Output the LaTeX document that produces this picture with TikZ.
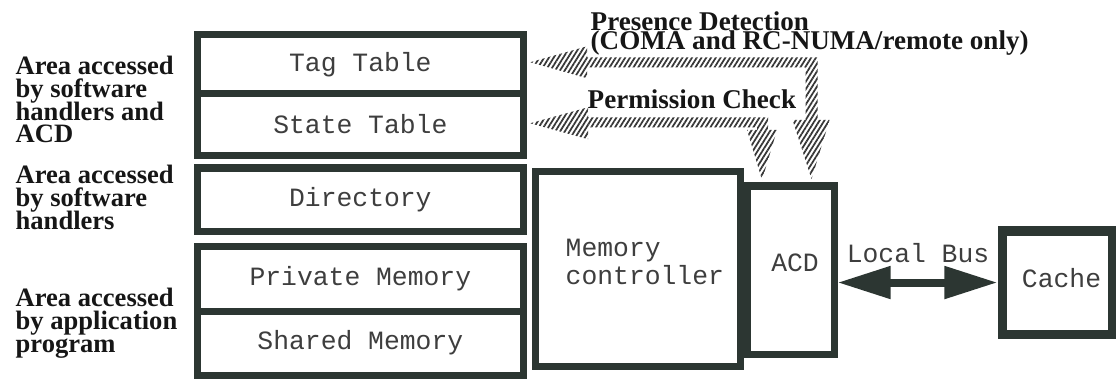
\documentclass[tikz,border=0pt]{standalone}
\usepackage{fontspec}
\setmainfont{Liberation Serif}
\newfontfamily\monofont{Liberation Mono}
\usetikzlibrary{arrows.meta,patterns.meta,calc}
\definecolor{boxc}{RGB}{44,54,50}
\definecolor{monoc}{RGB}{62,62,62}
\definecolor{lblc}{RGB}{22,22,22}
\definecolor{hatchc}{RGB}{55,55,55}
% let lines sit closer than their natural height
\newcommand\tightlines{\lineskiplimit=-20pt\relax}
\tikzset{
  box/.style={draw=boxc, line width=0.07cm, fill=white, inner sep=0pt,
              outer sep=0pt, anchor=north west},
  mono/.style={font=\monofont\fontsize{7.5pt}{7.7pt}\selectfont\tightlines,
               text=monoc, inner sep=0pt},
  lbl/.style={font=\bfseries\fontsize{7.55pt}{6.45pt}\selectfont\tightlines,
              text=lblc, inner sep=0pt, align=left},
  lbltop/.style={font=\bfseries\fontsize{7.7pt}{5.55pt}\selectfont\tightlines,
                 text=lblc, inner sep=0pt, align=left},
  hatch/.style={pattern={Lines[angle=58,distance=1.15pt,line width=0.5pt]},
                pattern color=hatchc},
  bus/.style={draw=boxc, line width=0.08cm,
              {Triangle[length=0.53cm,width=0.31cm]}-{Triangle[length=0.53cm,width=0.31cm]}}
}
\begin{document}
\begin{tikzpicture}[x=0.01cm,y=-0.01cm]
\useasboundingbox (0,0) rectangle (1116,379);

% memory areas
\node[box, minimum width=3.265cm, minimum height=0.585cm] (tag) at (197,35)
  [mono] {Tag Table};
\node[box, minimum width=3.265cm, minimum height=0.615cm] (state) at (197,93.5)
  [mono] {State Table};
\node[box, minimum width=3.265cm, minimum height=0.635cm] (dir) at (197,168)
  [mono] {Directory};
\node[box, minimum width=3.265cm, minimum height=0.645cm] (priv) at (197,246.5)
  [mono] {Private Memory};
\node[box, minimum width=3.265cm, minimum height=0.64cm] (shared) at (197,311)
  [mono] {Shared Memory};

% controller, ACD and cache
\node[box, minimum width=2.05cm, minimum height=1.95cm] (mc) at (535,171.5) {};
\node[mono, anchor=base west, align=left] (mctext) at (565,284) {Memory\\controller};
\node[box, minimum width=0.87cm, minimum height=1.68cm] (acd) at (747,186) {};
\node[mono] (acdtext) at ($(acd.center)+(4.5,-7.5)$) {ACD};
\node[box, line width=0.09cm, minimum width=1.10cm, minimum height=1.03cm] (cache)
  at (1002,231) {};
\node[mono] (cachetext) at ($(cache.center)+(4.5,-4)$) {Cache};

% local bus
\draw[bus, shorten <=0.035cm, shorten >=0.045cm] (acd.east |- cache.west) -- (cache.west);
\node[mono, anchor=base] (bustext) at (918,262) {Local Bus};

% area labels (anchored at the baseline of their last line)
\node[lbl, anchor=base west] (area1) at (15,143) {Area accessed\\by software\\handlers and\\ACD};
\node[lbl, anchor=base west] (area2) at (15,229) {Area accessed\\by software\\handlers};
\node[lbl, anchor=base west] (area3) at (15,352) {Area accessed\\by application\\program};

% presence detection: ACD <-> tag table
\coordinate (pdA) at ($(tag.east)+(6.5,-2)$);
\coordinate (pdB) at ($(acd.north)+(21,-7)$);
\fill[hatch] (pdA) -- ++(57,-16) -- ++(0,11)
  -- ($(pdB|-pdA)+(6,-5)$) -- ($(pdB)+(6,-59)$) -- ($(pdB)+(18,-59)$)
  -- (pdB) -- ($(pdB)+(-19,-59)$) -- ($(pdB)+(-6,-59)$)
  -- ($(pdB|-pdA)+(-6,5)$) -- ($(pdA)+(57,5)$) -- ++(0,11) -- cycle;

% permission check: ACD <-> state table
\coordinate (pcA) at ($(state.east)+(6.5,-1)$);
\coordinate (pcB) at ($(acd.north)+(-28.5,-6)$);
\fill[hatch] (pcA) -- ++(58,-16) -- ++(0,10)
  -- ($(pcB|-pcA)+(6,-6)$) -- ($(pcB)+(6,-50)$) -- ($(pcB)+(15,-50)$)
  -- (pcB) -- ($(pcB)+(-15,-50)$) -- ($(pcB)+(-5,-50)$)
  -- ($(pcB|-pcA)+(-5,4)$) -- ($(pcA)+(58,4)$) -- ++(0,12) -- cycle;

\node[lbltop, anchor=base west] (pdtext) at (590,50)
  {Presence Detection\\(COMA and RC-NUMA/remote only)};
\node[lbltop, anchor=base west] (pctext) at (587,109) {Permission Check};
\end{tikzpicture}
\end{document}
